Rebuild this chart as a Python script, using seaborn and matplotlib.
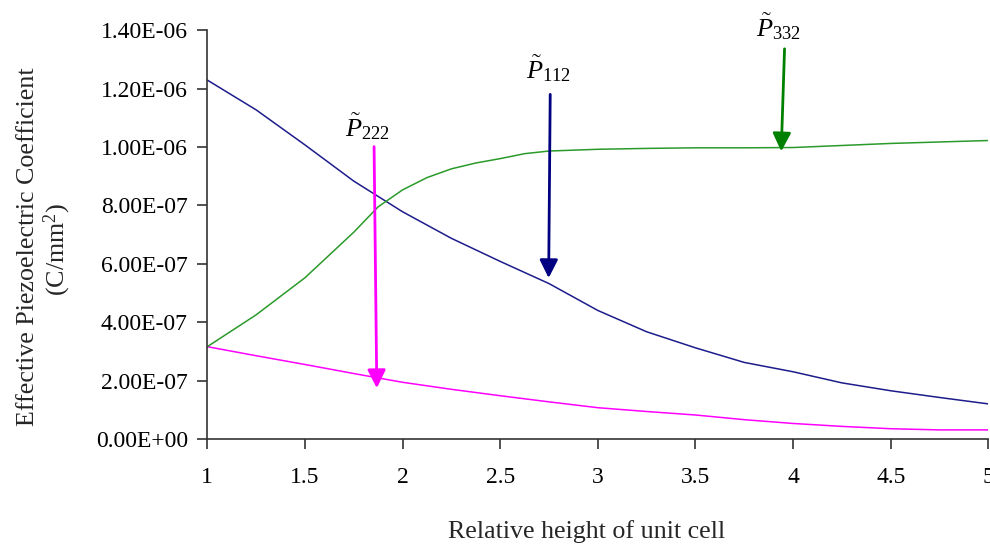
import matplotlib
matplotlib.use("Agg")
import matplotlib.pyplot as plt
import seaborn as sns
import pandas as pd

# Relative height of the unit cell for each series
height_p112 = [1.0, 1.25, 1.5, 1.75, 2.0, 2.25, 2.5, 2.75, 3.0,
               3.25, 3.5, 3.75, 4.0, 4.25, 4.5, 4.75, 5.0]
height_p222 = [1.0, 1.25, 1.5, 1.75, 2.0, 2.25, 2.5, 2.75, 3.0,
               3.25, 3.5, 3.75, 4.0, 4.25, 4.5, 4.75, 5.0]
height_p332 = [1.0, 1.25, 1.5, 1.75, 1.875, 2.0, 2.125, 2.25, 2.375, 2.5, 2.625, 2.75, 3.0,
               3.25, 3.5, 3.75, 4.0, 4.25, 4.5, 4.75, 5.0]

# Effective piezoelectric coefficients (C/mm^2)
p112 = [12.29e-7, 11.27e-7, 10.07e-7, 8.83e-7, 7.78e-7, 6.87e-7, 6.08e-7, 5.32e-7, 4.40e-7,
        3.67e-7, 3.12e-7, 2.62e-7, 2.30e-7, 1.92e-7, 1.65e-7, 1.42e-7, 1.20e-7]
p222 = [3.16e-7, 2.85e-7, 2.55e-7, 2.24e-7, 1.94e-7, 1.70e-7, 1.48e-7, 1.27e-7, 1.07e-7,
        0.94e-7, 0.82e-7, 0.66e-7, 0.53e-7, 0.43e-7, 0.35e-7, 0.31e-7, 0.31e-7]
p332 = [3.16e-7, 4.25e-7, 5.52e-7, 7.08e-7, 7.95e-7, 8.53e-7, 8.95e-7, 9.25e-7, 9.45e-7,
        9.60e-7, 9.77e-7, 9.86e-7, 9.92e-7,
        9.95e-7, 9.97e-7, 9.97e-7, 9.98e-7, 10.05e-7, 10.12e-7, 10.17e-7, 10.22e-7]

series_names = ["P112", "P222", "P332"]
series_labels = [r"$\tilde{P}_{112}$", r"$\tilde{P}_{222}$", r"$\tilde{P}_{332}$"]
series_colors = {"P112": "#1c1c8c", "P222": "#ff00ff", "P332": "#2a9a2a"}
arrow_colors = {"P112": "#000080", "P222": "#ff00ff", "P332": "#008000"}

x_ticks = [1, 1.5, 2, 2.5, 3, 3.5, 4, 4.5, 5]
x_tick_labels = ["1", "1.5", "2", "2.5", "3", "3.5", "4", "4.5", "5"]
y_ticks = [0.0, 2e-7, 4e-7, 6e-7, 8e-7, 1.0e-6, 1.2e-6, 1.4e-6]
y_tick_labels = ["0.00E+00", "2.00E-07", "4.00E-07", "6.00E-07",
                 "8.00E-07", "1.00E-06", "1.20E-06", "1.40E-06"]

# Arrow annotations: (series, arrow start, arrow tip, label centre)
arrows = [
    ("P222", (1.854, 10.01e-7), (1.868, 1.74e-7), (1.818, 10.70e-7)),
    ("P112", (2.756, 11.80e-7), (2.748, 5.51e-7), (2.746, 12.68e-7)),
    ("P332", (3.956, 13.36e-7), (3.939, 9.85e-7), (3.926, 14.12e-7)),
]

df = pd.concat([
    pd.DataFrame({"height": height_p112, "value": p112, "series": "P112"}),
    pd.DataFrame({"height": height_p222, "value": p222, "series": "P222"}),
    pd.DataFrame({"height": height_p332, "value": p332, "series": "P332"}),
], ignore_index=True)

sns.set_theme(style="ticks")
plt.rcParams["font.family"] = ["Liberation Serif", "DejaVu Serif"]
plt.rcParams["mathtext.fontset"] = "custom"
plt.rcParams["mathtext.rm"] = "Liberation Serif"
plt.rcParams["mathtext.it"] = "Liberation Serif:italic"

fig = plt.figure(figsize=(9.9, 5.48), dpi=100)
ax = fig.add_axes([0.2094, 0.199, 0.789, 0.746])

sns.lineplot(data=df, x="height", y="value", hue="series", sort=False,
             palette=series_colors, linewidth=1.1, legend=False, ax=ax)

ax.set_xlim(1, 5)
ax.set_ylim(0, 1.4e-6)
ax.set_xticks(x_ticks)
ax.set_xticklabels(x_tick_labels)
ax.set_yticks(y_ticks)
ax.set_yticklabels(y_tick_labels)
ax.tick_params(axis="both", direction="out", length=7, width=1.2,
               color="#333333", labelsize=17, labelcolor="black")
ax.tick_params(axis="x", pad=13)
ax.tick_params(axis="y", pad=7)
ax.set_xlabel("")
ax.set_ylabel("")

for side in ["top", "right"]:
    ax.spines[side].set_visible(False)
for side in ["left", "bottom"]:
    ax.spines[side].set_color("#333333")
    ax.spines[side].set_linewidth(1.2)

for name, start, tip, label_pos in arrows:
    color = arrow_colors[name]
    ax.annotate("", xy=tip, xytext=start,
                arrowprops=dict(arrowstyle="-|>,head_length=1.1,head_width=0.55",
                                mutation_scale=10, lw=2, color=color,
                                shrinkA=0, shrinkB=0))
    ax.text(label_pos[0], label_pos[1], series_labels[series_names.index(name)],
            ha="center", va="center", fontsize=19, color="black", clip_on=False)

fig.text(0.028, 0.549, "Effective Piezoelectric Coefficient",
         rotation=90, ha="center", va="center", fontsize=18.7)
fig.text(0.058, 0.545, r"(C/mm$^{2}$)",
         rotation=90, ha="center", va="center", fontsize=18.7)
fig.text(0.593, 0.031, "Relative height of unit cell",
         ha="center", va="center", fontsize=18.7)

fig.savefig("out.png", dpi=100)
